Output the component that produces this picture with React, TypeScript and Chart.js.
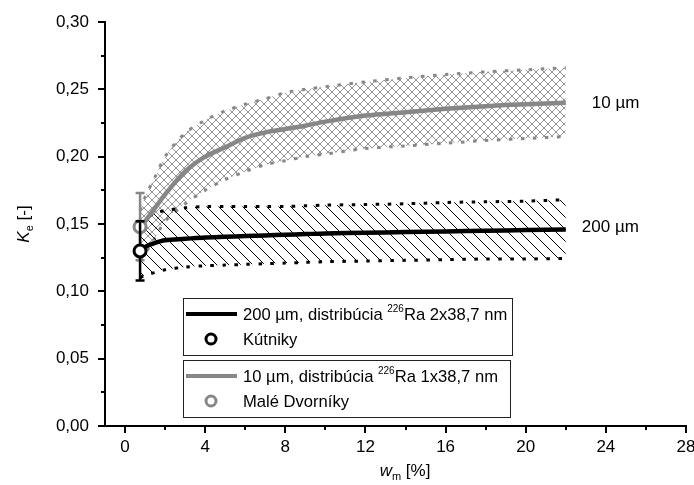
import React, { useEffect, useRef } from "react";
import { Chart, registerables } from "chart.js";

Chart.register(...registerables);

// ---- data ----
const xs = [0.75, 1, 1.5, 2, 3, 4, 5, 6, 7, 8, 9, 10, 12, 14, 16, 18, 20, 22];
const line200 = [0.130, 0.133, 0.136, 0.138, 0.139, 0.140, 0.1405, 0.141, 0.1415, 0.142, 0.1425, 0.143, 0.1435, 0.144, 0.1445, 0.145, 0.1455, 0.146];
const upper200 = [0.150, 0.154, 0.158, 0.160, 0.162, 0.163, 0.163, 0.163, 0.163, 0.163, 0.1635, 0.164, 0.1645, 0.165, 0.166, 0.1665, 0.167, 0.168];
const lower200 = [0.110, 0.112, 0.114, 0.116, 0.118, 0.119, 0.1195, 0.120, 0.1205, 0.121, 0.1215, 0.122, 0.1225, 0.123, 0.1235, 0.124, 0.124, 0.1245];
const line10 = [0.148, 0.152, 0.162, 0.172, 0.189, 0.200, 0.207, 0.214, 0.218, 0.2205, 0.223, 0.226, 0.2305, 0.233, 0.2355, 0.2375, 0.239, 0.240];
const upper10 = [0.160, 0.170, 0.185, 0.200, 0.2175, 0.227, 0.234, 0.239, 0.243, 0.2475, 0.250, 0.252, 0.2555, 0.2585, 0.261, 0.263, 0.2645, 0.266];
const lower10 = [0.123, 0.128, 0.140, 0.152, 0.165, 0.175, 0.183, 0.189, 0.194, 0.197, 0.200, 0.202, 0.206, 0.208, 0.210, 0.212, 0.2135, 0.215];

const pointKutniky = { x: 0.75, y: 0.130, lo: 0.108, hi: 0.152 };
const pointMale = { x: 0.75, y: 0.148, lo: 0.123, hi: 0.173 };

const xTickValues = [0, 4, 8, 12, 16, 20, 24, 28];
const xMinorValues = [2, 6, 10, 14, 18, 22, 26];
const yTickValues = [0, 0.05, 0.1, 0.15, 0.2, 0.25, 0.3];
const yMinorValues = [0.025, 0.075, 0.125, 0.175, 0.225, 0.275];

const legend1Line = ["200 µm, distribúcia ", "226", "Ra 2x38,7 nm"];
const legend1Point = "Kútniky";
const legend2Line = ["10 µm, distribúcia ", "226", "Ra 1x38,7 nm"];
const legend2Point = "Malé Dvorníky";
const label10 = "10 µm";
const label200 = "200 µm";

const FONT = '"Liberation Sans", Arial, sans-serif';
const GREY = "#878787";

function makePattern(kind: "diag" | "cross"): CanvasPattern | string {
  const c = document.createElement("canvas");
  const s = kind === "diag" ? 12 : 8;
  c.width = s;
  c.height = s;
  const g = c.getContext("2d");
  if (!g) return "transparent";
  g.lineWidth = 1;
  if (kind === "diag") {
    g.strokeStyle = "#000";
    g.beginPath();
    g.moveTo(-1, -1);
    g.lineTo(s + 1, s + 1);
    g.moveTo(-1, s - 1);
    g.lineTo(1, s + 1);
    g.moveTo(s - 1, -1);
    g.lineTo(s + 1, 1);
    g.stroke();
  } else {
    g.strokeStyle = "#959595";
    g.beginPath();
    g.moveTo(-1, -1);
    g.lineTo(s + 1, s + 1);
    g.moveTo(s + 1, -1);
    g.lineTo(-1, s + 1);
    g.stroke();
  }
  const p = g.createPattern(c, "repeat");
  return p || "transparent";
}

const toPts = (ys: number[]) => xs.map((x, i) => ({ x, y: ys[i] }));

const overlayPlugin = {
  id: "overlay",
  afterDatasetsDraw(chart: any) {
    const ctx = chart.ctx as CanvasRenderingContext2D;
    const xS = chart.scales.x;
    const yS = chart.scales.y;

    const drawBar = (p: any, color: string) => {
      const px = xS.getPixelForValue(p.x);
      const pyLo = yS.getPixelForValue(p.lo);
      const pyHi = yS.getPixelForValue(p.hi);
      ctx.save();
      ctx.strokeStyle = color;
      ctx.lineWidth = 2.5;
      ctx.beginPath();
      ctx.moveTo(px, pyLo);
      ctx.lineTo(px, pyHi);
      ctx.moveTo(px - 4.5, pyLo);
      ctx.lineTo(px + 4.5, pyLo);
      ctx.moveTo(px - 4.5, pyHi);
      ctx.lineTo(px + 4.5, pyHi);
      ctx.stroke();
      ctx.restore();
    };
    const drawCircle = (p: any, color: string) => {
      const px = xS.getPixelForValue(p.x);
      const py = yS.getPixelForValue(p.y);
      ctx.save();
      ctx.fillStyle = "#fff";
      ctx.strokeStyle = color;
      ctx.lineWidth = 3;
      ctx.beginPath();
      ctx.arc(px, py, 6, 0, Math.PI * 2);
      ctx.fill();
      ctx.stroke();
      ctx.restore();
    };
    drawBar(pointMale, GREY);
    drawCircle(pointMale, GREY);
    drawBar(pointKutniky, "#000");
    drawCircle(pointKutniky, "#000");

    ctx.save();
    ctx.fillStyle = "#000";
    ctx.font = `17px ${FONT}`;
    ctx.textBaseline = "middle";
    ctx.textAlign = "left";
    ctx.fillText(label10, xS.getPixelForValue(xs[xs.length - 1]) + 26, yS.getPixelForValue(line10[line10.length - 1]) + 1);
    ctx.fillText(label200, xS.getPixelForValue(xs[xs.length - 1]) + 16, yS.getPixelForValue(line200[line200.length - 1]) - 2);
    ctx.restore();
  },
  afterDraw(chart: any) {
    const ctx = chart.ctx as CanvasRenderingContext2D;
    const xS = chart.scales.x;
    const yS = chart.scales.y;
    const area = chart.chartArea;

    ctx.save();
    ctx.strokeStyle = "#000";
    ctx.lineWidth = 2;
    ctx.beginPath();
    xTickValues.forEach((v) => {
      const px = Math.round(xS.getPixelForValue(v));
      ctx.moveTo(px, area.bottom);
      ctx.lineTo(px, area.bottom + 7);
    });
    xMinorValues.forEach((v) => {
      const px = Math.round(xS.getPixelForValue(v));
      ctx.moveTo(px, area.bottom);
      ctx.lineTo(px, area.bottom + 4);
    });
    yTickValues.forEach((v) => {
      const py = Math.round(yS.getPixelForValue(v));
      ctx.moveTo(area.left, py);
      ctx.lineTo(area.left - 7, py);
    });
    yMinorValues.forEach((v) => {
      const py = Math.round(yS.getPixelForValue(v));
      ctx.moveTo(area.left, py);
      ctx.lineTo(area.left - 4, py);
    });
    ctx.stroke();
    ctx.restore();

    const drawTitle = (main: string, sub: string, rest: string) => {
      ctx.font = `italic 17px ${FONT}`;
      const w1 = ctx.measureText(main).width;
      ctx.font = `11px ${FONT}`;
      const w2 = ctx.measureText(sub).width;
      ctx.font = `17px ${FONT}`;
      const w3 = ctx.measureText(rest).width;
      const total = w1 + w2 + w3;
      let x = -total / 2;
      ctx.textAlign = "left";
      ctx.textBaseline = "alphabetic";
      ctx.font = `italic 17px ${FONT}`;
      ctx.fillText(main, x, 0);
      x += w1;
      ctx.font = `11px ${FONT}`;
      ctx.fillText(sub, x, 4);
      x += w2;
      ctx.font = `17px ${FONT}`;
      ctx.fillText(rest, x, 0);
    };
    ctx.save();
    ctx.fillStyle = "#000";
    ctx.translate(405, 476);
    drawTitle("w", "m", " [%]");
    ctx.restore();
    ctx.save();
    ctx.fillStyle = "#000";
    ctx.translate(29, 224);
    ctx.rotate(-Math.PI / 2);
    drawTitle("K", "e", " [-]");
    ctx.restore();

    const LF = 16.6;
    const drawRich = (parts: string[], x: number, y: number) => {
      ctx.textAlign = "left";
      ctx.textBaseline = "alphabetic";
      ctx.font = `${LF}px ${FONT}`;
      ctx.fillText(parts[0], x, y);
      x += ctx.measureText(parts[0]).width;
      ctx.font = `10px ${FONT}`;
      ctx.fillText(parts[1], x, y - 8);
      x += ctx.measureText(parts[1]).width;
      ctx.font = `${LF}px ${FONT}`;
      ctx.fillText(parts[2], x, y);
    };
    const drawBox = (top: number, right: number, color: string, lineParts: string[], pointText: string) => {
      ctx.save();
      ctx.strokeStyle = "#222";
      ctx.lineWidth = 1;
      ctx.fillStyle = "#fff";
      ctx.fillRect(183.5, top + 0.5, right - 183, 57);
      ctx.strokeRect(183.5, top + 0.5, right - 183, 57);
      ctx.strokeStyle = color;
      ctx.lineWidth = 4;
      ctx.beginPath();
      ctx.moveTo(186, top + 16);
      ctx.lineTo(237, top + 16);
      ctx.stroke();
      ctx.lineWidth = 3;
      ctx.fillStyle = "#fff";
      ctx.beginPath();
      ctx.arc(211, top + 41, 5, 0, Math.PI * 2);
      ctx.fill();
      ctx.stroke();
      ctx.fillStyle = "#000";
      drawRich(lineParts, 243, top + 22);
      ctx.font = `${LF}px ${FONT}`;
      ctx.fillText(pointText, 243, top + 47);
      ctx.restore();
    };
    drawBox(298, 512, "#000", legend1Line, legend1Point);
    drawBox(360, 510, GREY, legend2Line, legend2Point);
  },
};

export default function App() {
  const ref = useRef<HTMLCanvasElement>(null);
  useEffect(() => {
    if (!ref.current) return;
    const diag = makePattern("diag");
    const cross = makePattern("cross");
    const dots = { borderWidth: 3, borderDash: [3.5, 8.5], pointRadius: 0, tension: 0.3 };
    const chart = new Chart(ref.current, {
      type: "line",
      data: {
        datasets: [
          { data: toPts(upper10), borderColor: GREY, fill: false, order: 10, ...dots } as any,
          { data: toPts(lower10), borderColor: GREY, backgroundColor: cross, fill: 0, order: 9, ...dots } as any,
          { data: toPts(upper200), borderColor: "#000", fill: false, order: 8, ...dots } as any,
          { data: toPts(lower200), borderColor: "#000", backgroundColor: diag, fill: 2, order: 7, ...dots } as any,
          { data: toPts(line10), borderColor: GREY, borderWidth: 4.5, pointRadius: 0, fill: false, tension: 0.3, order: 6 } as any,
          { data: toPts(line200), borderColor: "#000", borderWidth: 4.5, pointRadius: 0, fill: false, tension: 0.3, order: 5 } as any,
        ],
      },
      options: {
        animation: false,
        responsive: false,
        devicePixelRatio: 1,
        layout: { padding: { left: 0, right: 8, top: 22, bottom: 0 } },
        plugins: { legend: { display: false }, tooltip: { enabled: false } },
        scales: {
          x: {
            type: "linear",
            min: -1,
            max: 28,
            afterBuildTicks: (s: any) => {
              s.ticks = xTickValues.map((v) => ({ value: v }));
            },
            afterFit: (s: any) => {
              s.height = 59;
              s.paddingLeft = 0;
              s.paddingRight = 0;
            },
            grid: { display: false, drawTicks: false },
            border: { display: true, color: "#000", width: 2 },
            ticks: {
              padding: 11,
              color: "#000",
              font: { family: FONT, size: 17 },
              maxRotation: 0,
              autoSkip: false,
              callback: (v: any) => String(v),
            },
          },
          y: {
            type: "linear",
            min: 0,
            max: 0.3,
            afterBuildTicks: (s: any) => {
              s.ticks = yTickValues.map((v) => ({ value: v }));
            },
            afterFit: (s: any) => {
              s.width = 105;
              s.paddingTop = 0;
              s.paddingBottom = 0;
            },
            grid: { display: false, drawTicks: false },
            border: { display: true, color: "#000", width: 2 },
            ticks: {
              padding: 16,
              color: "#000",
              font: { family: FONT, size: 17 },
              autoSkip: false,
              callback: (v: any) => Number(v).toFixed(2).replace(".", ","),
            },
          },
        },
      },
      plugins: [overlayPlugin],
    } as any);
    return () => chart.destroy();
  }, []);
  return (
    <div style={{ position: "absolute", left: 0, top: 0, width: 694, height: 485, background: "#fff" }}>
      <canvas ref={ref} width={694} height={485} />
    </div>
  );
}
